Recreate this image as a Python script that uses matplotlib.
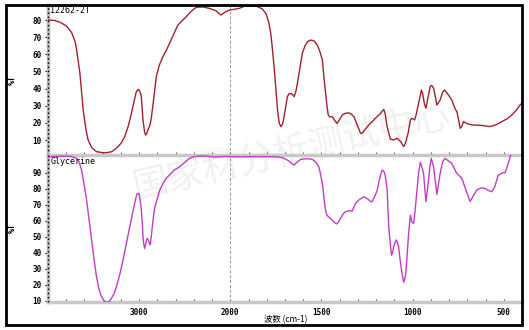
import numpy as np
import matplotlib
matplotlib.use("Agg")
import matplotlib.pyplot as plt
from matplotlib.patches import Rectangle
from matplotlib.ticker import FixedLocator, NullFormatter

# ---------------- data ----------------
top_title = "12262-2T"
bot_title = "Glycerine"

top_wn = [4000, 3930, 3860, 3796, 3741, 3700, 3686, 3650, 3614, 3580, 3560, 3520, 3468, 3400, 3358,
          3300, 3249, 3200, 3158, 3120, 3085, 3050, 3031, 3010, 3002, 2985, 2976, 2958, 2940, 2929,
          2915, 2904, 2880, 2867, 2842, 2812, 2780, 2740, 2700, 2667, 2620, 2576, 2530, 2484, 2430,
          2375, 2300, 2230, 2160, 2102, 2060, 2011, 1980, 1951, 1923, 1880, 1851, 1825, 1805, 1790,
          1778, 1768, 1760, 1750, 1741, 1732, 1723, 1714, 1705, 1695, 1687, 1678, 1668, 1658, 1650,
          1640, 1632, 1618, 1605, 1590, 1575, 1559, 1540, 1523, 1510, 1495, 1485, 1477, 1470, 1463,
          1455, 1441, 1428, 1414, 1400, 1386, 1368, 1350, 1335, 1322, 1305, 1286, 1277, 1262, 1240,
          1222, 1204, 1180, 1158, 1150, 1140, 1122, 1105, 1085, 1065, 1049, 1040, 1025, 1012, 1003,
          989, 980, 967, 958, 952, 945, 935, 927, 915, 903, 895, 885, 875, 867, 857,
          849, 835, 825, 805, 785, 766, 757, 748, 739, 730, 721, 700, 675, 620, 576,
          540, 511, 480, 456, 430, 411, 400]
top_T = [80, 79.8, 78.5, 76.4, 72.7, 67, 62.5, 49, 27.5, 15, 10, 5.5, 3.2, 2.6, 2.6,
         3.2, 5.2, 8, 12, 18, 25.6, 34, 38.2, 39.5, 39.2, 37.5, 35.3, 21.7, 14.5, 12.9,
         14, 15.8, 19, 22.7, 33.3, 47, 53.5, 58.6, 62.5, 66.4, 72, 77, 79.5, 81.9, 85,
         87.4, 87.6, 86.8, 85.5, 82.9, 84.5, 85.8, 86.2, 86.8, 88, 88.2, 87.8, 86.5, 83.9, 79,
         72.2, 62, 52.8, 40, 27.5, 20, 17.8, 19, 23.6, 30, 35.3, 37, 37.2, 36.5, 35.3,
         38.5, 43.1, 52, 60.6, 65, 67.5, 68.3, 67.8, 65.4, 62, 56.7, 45, 37.2, 30, 24.6,
         23.5, 23.6, 21.5, 19.7, 22, 24.6, 25.6, 25.8, 25, 23.6, 19, 14, 13.9, 16, 18.8,
         20.7, 22.7, 25, 27.9, 25, 17.8, 10.5, 10, 11, 9, 6.1, 8, 13.9, 21.7, 22.7,
         21.7, 25, 31.4, 36, 39.2, 37, 31, 28.5, 35, 41.5, 41.8, 40.2, 35, 30.4, 32,
         33.3, 38, 39.2, 36.5, 33.3, 28, 26.5, 22, 16.8, 18, 20.7, 19.5, 18.8, 18.5, 17.8,
         19, 20.7, 22.5, 24.6, 27.5, 30.4, 31.5]

bot_wn = [4000, 3978, 3900, 3814, 3750, 3686, 3660, 3632, 3605, 3577, 3550, 3522, 3495, 3468, 3440,
          3413, 3385, 3358, 3330, 3304, 3275, 3249, 3210, 3177, 3140, 3104, 3075, 3049, 3030, 3020,
          3002, 2990, 2976, 2965, 2958, 2948, 2940, 2930, 2920, 2910, 2893, 2878, 2868, 2856, 2840,
          2831, 2800, 2776, 2740, 2704, 2667, 2620, 2557, 2500, 2448, 2400, 2339, 2250, 2180, 2120,
          2050, 2000, 1900, 1800, 1750, 1720, 1705, 1680, 1660, 1650, 1635, 1614, 1580, 1550, 1530,
          1514, 1505, 1495, 1488, 1481, 1472, 1463, 1450, 1441, 1430, 1417, 1405, 1395, 1380, 1368,
          1350, 1331, 1313, 1295, 1268, 1245, 1230, 1222, 1205, 1194, 1180, 1167, 1158, 1150, 1140,
          1131, 1122, 1116, 1110, 1104, 1096, 1089, 1077, 1068, 1061, 1049, 1040, 1036, 1029, 1022,
          1012, 1003, 994, 985, 976, 967, 958, 950, 940, 927, 920, 913, 905, 898, 885,
          875, 867, 858, 849, 835, 822, 805, 785, 760, 730, 710, 695, 685, 670, 648,
          625, 603, 585, 566, 550, 530, 520, 506, 493, 475, 465, 456]
bot_T = [100, 100, 100.3, 100.4, 100.2, 99, 97, 91.7, 83, 73, 61, 48, 36, 25, 17,
         12.5, 10, 9, 9.5, 11.5, 14.5, 18.8, 27, 35.4, 46, 56, 64, 71, 75.5, 77,
         77, 73, 66.7, 58, 50, 45, 42.7, 45, 48, 49, 46.9, 44.8, 50, 56, 64,
         67.7, 74, 79, 83, 86.5, 88.6, 91.5, 93.7, 96.5, 99, 100, 100.5, 100.3, 99.8, 100,
         100.2, 100, 100, 100, 100, 99.5, 99, 97.5, 95.5, 94.8, 96.5, 98.4, 98.8, 98.4, 96.5,
         93.7, 89, 83.4, 76, 68.8, 64, 62.5, 61.5, 60.4, 59, 58, 59.5, 61.5, 64.5, 65.6,
         66.2, 66.2, 70.9, 73, 75, 73.5, 72, 71.9, 76, 79.2, 87, 91.7, 91, 88, 80,
         56, 45, 38.5, 40, 43.8, 46.5, 48, 43.8, 35, 29.2, 21.5, 25, 29.2, 40, 52,
         63.5, 59, 58.4, 68, 79.2, 90, 96.5, 94, 89.6, 72, 78, 85.4, 94, 99, 93.7,
         84, 76.5, 83, 89.6, 97, 99, 97.5, 95.9, 90, 86.5, 80, 75, 72, 75, 79.2,
         80.5, 80.2, 79, 78.1, 81, 88.6, 89, 90, 90, 95.9, 100, 102.5]

x_major = [3000, 2000, 1500, 1000, 500]
top_yticks = [10, 20, 30, 40, 50, 60, 70, 80]
bot_yticks = [10, 20, 30, 40, 50, 60, 70, 80, 90]
xlabel = "波数 (cm-1)"
ylabel = "%T"
watermark = "国家材分析测试中心"

# ---------------- style ----------------
W, H = 529, 330
fig = plt.figure(figsize=(W / 100, H / 100), dpi=100)
fig.patch.set_facecolor("white")
mono = "DejaVu Sans Mono"

def fwd(w):
    w = np.asarray(w, dtype=float)
    return np.where(w <= 2000, w - 400, 1600 + (w - 2000) * 0.5)

def inv(p):
    p = np.asarray(p, dtype=float)
    return np.where(p <= 1600, p + 400, 2000 + (p - 1600) * 2.0)

def px(x0, y0, x1, y1):
    return [x0 / W, 1 - y1 / H, (x1 - x0) / W, (y1 - y0) / H]

ax1 = fig.add_axes(px(48, 5, 522, 155))
ax2 = fig.add_axes(px(48, 155, 522, 302))

minor = [w for w in list(range(400, 2000, 100)) + list(range(2200, 4000, 200)) if w not in x_major]

for ax, wn, T, col, yl, yt, title in [
        (ax1, top_wn, top_T, "#a3202e", (1.25, 88.75), top_yticks, top_title),
        (ax2, bot_wn, bot_T, "#c23cc6", (9.2, 101.1), bot_yticks, bot_title)]:
    ax.set_facecolor("none")
    ax.set_xscale("function", functions=(fwd, inv))
    ax.set_xlim(4000, 400)
    ax.set_ylim(*yl)
    ax.plot(wn, T, color=col, lw=1.0, zorder=3)
    ax.axvline(2000, color="#9a9a9a", lw=0.7, ls=(0, (3, 2)), zorder=1)
    for s in ["top", "right"]:
        ax.spines[s].set_visible(False)
    ax.spines["left"].set_color("#b8b8b8")
    ax.spines["left"].set_linewidth(2.5)
    ax.spines["bottom"].set_color("#c8c8c8")
    ax.spines["bottom"].set_linewidth(2.5)
    ax.plot([0, 0], [0, 1], transform=ax.transAxes, color="black", lw=1.0,
            ls=(0, (1, 2)), clip_on=False, zorder=5)
    ax.set_yticks(yt)
    ax.set_yticklabels([str(v) for v in yt], fontsize=5.5, family=mono, fontweight="bold")
    ax.tick_params(axis="y", direction="out", length=2.5, width=0.8, pad=2, color="black")
    ax.text(0.005, 0.995 if ax is ax1 else 0.985, title, transform=ax.transAxes, va="top", ha="left",
            fontsize=6, family=mono, color="black", zorder=6)
    ax.set_xticks(x_major)
    ax.xaxis.set_minor_locator(FixedLocator(minor))
    ax.xaxis.set_minor_formatter(NullFormatter())
    ax.tick_params(axis="x", which="both", direction="in", length=2, width=0.8, color="#555555")

ax1.set_xticklabels([])
ax2.set_xticklabels([str(v) for v in x_major], fontsize=5.5, family=mono, fontweight="bold")
ax2.tick_params(axis="x", which="major", pad=4)

fig.text(12 / W, 1 - 80 / H, ylabel, rotation=90, ha="center", va="center",
         fontsize=6, family=mono, fontweight="bold")
fig.text(12 / W, 1 - 228 / H, ylabel, rotation=90, ha="center", va="center",
         fontsize=6, family=mono, fontweight="bold")
fig.text(286 / W, 1 - 320 / H, xlabel, ha="center", va="center", fontsize=6,
         family=["Noto Sans CJK SC", "DejaVu Sans"])

fig.text(292 / W, 1 - 152 / H, watermark, ha="center", va="center", rotation=13,
         fontsize=26, color="#f1f1f1", family=["Noto Sans CJK SC", "DejaVu Sans"], zorder=-1)

fig.patches.append(Rectangle((6 / W, 1 - 325 / H), (522 - 6) / W, (325 - 5) / H,
                             transform=fig.transFigure, fill=False, lw=2, edgecolor="black",
                             zorder=10))

fig.savefig("out.png", dpi=100)
